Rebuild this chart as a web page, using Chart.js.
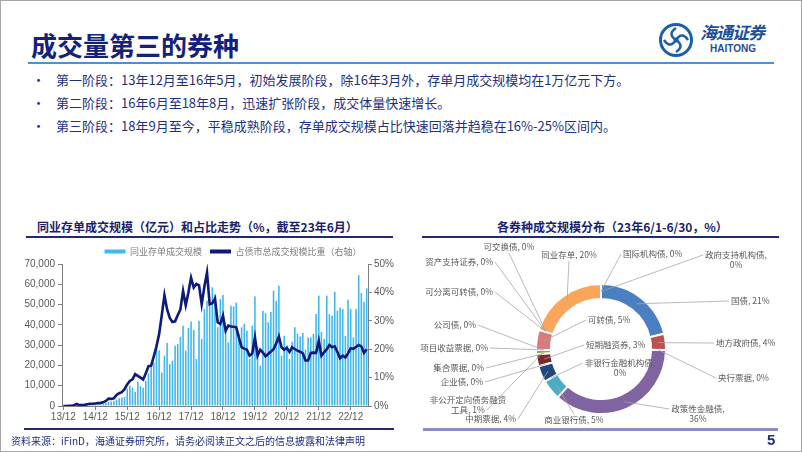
<!DOCTYPE html>
<html>
<head>
<meta charset="utf-8">
<script src="https://cdn.jsdelivr.net/npm/chart.js@4.4.0/dist/chart.umd.min.js"></script>
<style>
body { margin: 0; background: #fff; }
#page { position: relative; width: 802px; height: 452px; box-sizing: border-box; border: 1px solid #a6a6a6; overflow: hidden; font-family: "Noto Sans CJK SC", sans-serif; }
.abs { position: absolute; white-space: nowrap; }
.bul { font-size: 13px; line-height: 13px; color: #1c2f86; }
.ctitle { font-size: 12px; line-height: 12px; font-weight: 700; color: #1a1f6e; }
</style>
</head>
<body>
<div id="page">
  <div class="abs" style="left:30px;top:30px;font-size:26px;line-height:28px;font-weight:700;color:#13217a;">成交量第三的券种</div>
  <svg class="abs" style="left:657px;top:21px" width="36" height="36" viewBox="0 0 36 36">
    <circle cx="18" cy="18" r="15.5" fill="none" stroke="#1b5faa" stroke-width="3"/>
    <path d="M18 6 C12 10 12 14 18 18 C24 22 24 26 18 30" fill="none" stroke="#1b5faa" stroke-width="2.6"/>
    <path d="M6 18 C10 24 14 24 18 18 C22 12 26 12 30 18" fill="none" stroke="#1b5faa" stroke-width="2.6"/>
    <circle cx="18" cy="18" r="2.5" fill="#1b5faa"/>
  </svg>
  <div class="abs" style="left:699px;top:22px;font-size:17px;line-height:18px;font-weight:700;font-style:italic;color:#1b4f9a;letter-spacing:-1px;">海通证券</div>
  <div class="abs" style="left:709px;top:43px;font-family:'Liberation Sans',Arial,sans-serif;font-size:10px;line-height:10px;font-weight:700;color:#1b4f9a;">HAITONG</div>
  <div class="abs" style="left:27px;top:61px;width:746px;height:2px;background:#4a90d6;"></div>

  <div class="abs bul" style="left:31px;top:72px;">•</div>
  <div class="abs bul" style="left:55px;top:72px;">第一阶段：13年12月至16年5月，初始发展阶段，除16年3月外，存单月成交规模均在1万亿元下方。</div>
  <div class="abs bul" style="left:31px;top:95px;">•</div>
  <div class="abs bul" style="left:55px;top:95px;">第二阶段：16年6月至18年8月，迅速扩张阶段，成交体量快速增长。</div>
  <div class="abs bul" style="left:31px;top:118px;">•</div>
  <div class="abs bul" style="left:55px;top:118px;">第三阶段：18年9月至今，平稳成熟阶段，存单成交规模占比快速回落并趋稳在16%-25%区间内。</div>

  <div class="abs ctitle" style="left:36px;top:220px;">同业存单成交规模（亿元）和占比走势（%，截至23年6月）</div>
  <div class="abs" style="left:25px;top:235px;width:367px;height:2px;background:#1f2a72;"></div>
  <div class="abs ctitle" style="left:496px;top:220px;">各券种成交规模分布（23年6/1-6/30，%）</div>
  <div class="abs" style="left:421px;top:235px;width:357px;height:2px;background:#1f2a72;"></div>

  <canvas id="c1" class="abs" style="left:0;top:238px;" width="400" height="190"></canvas>
  <canvas id="c2" class="abs" style="left:410px;top:236px;" width="380" height="190"></canvas>

  <div class="abs" style="left:23px;top:427px;width:370px;height:2px;background:#1f2a72;"></div>
  <div class="abs" style="left:422px;top:427px;width:355px;height:3px;background:#8c8cc6;"></div>

  <div class="abs" style="left:10px;top:435px;font-size:10px;line-height:10px;color:#1c2f86;">资料来源：iFinD，海通证券研究所，请务必阅读正文之后的信息披露和法律声明</div>
  <div class="abs" style="left:766px;top:431px;font-family:'Liberation Sans',Arial,sans-serif;font-size:15px;line-height:15px;font-weight:700;color:#1c2f86;">5</div>
</div>

<script>
// 月份 13/12 - 23/06
const months = [];
for (let y = 13, m = 12; months.length < 115;) {
    months.push(y + '/' + String(m).padStart(2, '0'));
    m++;
    if (m > 12) { m = 1; y++; }
}
const yearTicks = ['13/12', '14/12', '15/12', '16/12', '17/12', '18/12', '19/12', '20/12', '21/12', '22/12'];

// 同业存单成交规模（亿元）
const volume = [
    100, 150, 200, 200, 300, 500, 300, 300, 400, 500, 600, 600,
    700, 800, 900, 1000, 1500, 2000, 2200, 2500, 3200, 3800, 4200, 4500,
    8500, 10000, 9000, 7000, 12000, 9800, 9000, 12500, 16000, 19500, 21500, 30500,
    27500, 16500, 24800, 31000, 20700, 22300, 29700, 30500, 34000, 39600, 27300, 38500,
    41700, 37500, 23200, 42000, 33000, 47800, 51900, 49400, 58500, 55200, 38800, 52700,
    54700, 37900, 31400, 49400, 49100, 51000, 35500, 38800, 40400, 37100, 23200, 39600,
    54000, 29400, 19900, 47000, 45800, 41200, 46300, 56800, 51900, 59300, 24800, 34600,
    30000, 23200, 31700, 38800, 35500, 34300, 36000, 27800, 33800, 33800, 35500, 45300,
    54400, 36600, 33000, 54400, 45300, 44500, 56300, 47000, 48600, 47800, 34600, 52400,
    47800, 33800, 47800, 64500, 55700, 51400, 58000
];
// 占债市总成交规模比重（%）
const ratio = [
    0.0, 0.0, 0.1, 0.1, 0.3, 0.7, 0.3, 0.3, 0.4, 0.6, 0.8, 0.8,
    0.9, 1.0, 1.1, 1.3, 1.8, 2.6, 2.5, 2.7, 3.9, 4.5, 4.9, 5.9,
    7.6, 8.8, 9.4, 11.2, 10.6, 10.0, 9.3, 11.5, 14.0, 14.2, 17.5, 21.0,
    25.3, 32.0, 39.0, 34.0, 31.0, 29.6, 29.8, 32.0, 34.0, 40.5, 35.5, 40.0,
    45.2, 41.7, 43.0, 42.5, 35.8, 42.0, 47.0, 35.8, 36.2, 37.8, 29.5, 28.9,
    31.8, 26.5, 28.3, 28.0, 27.9, 27.7, 24.0, 20.7, 20.2, 19.8, 17.7, 18.5,
    24.2, 17.7, 19.8, 18.8, 17.5, 18.3, 19.2, 20.0, 22.0, 24.5, 20.7, 19.8,
    20.5, 19.0, 20.7, 20.0, 19.5, 19.1, 18.5, 16.0, 16.0, 18.7, 18.8, 18.7,
    23.0, 17.7, 18.9, 20.0, 21.5, 20.7, 21.0, 19.0, 16.8, 17.7, 17.1, 18.5,
    20.3, 20.1, 20.8, 21.5, 21.0, 18.7, 20.0
];

// 各券种成交规模分布（%），顺时针自顶部起
const bondNames = ['国债', '地方政府债', '央行票据', '政策性金融债', '商业银行债', '非银行金融机构债',
    '中期票据', '企业债', '短期融资券', '集合票据', '非公开定向债务融资工具', '项目收益票据', '公司债',
    '可转债', '可分离可转债', '资产支持证券', '可交换债', '同业存单', '国际机构债', '政府支持机构债'];
const bondShares = [21, 4, 0, 36, 5, 0, 4, 0, 3, 0, 1, 0, 0, 5, 0, 0, 0, 20, 0, 0];
const bondColors = ['#4a7fc1', '#c0504d', '#999999', '#8064a2', '#4bacc6', '#999999',
    '#1f497d', '#999999', '#7a2a2a', '#999999', '#8db04a', '#999999', '#999999',
    '#d97b7e', '#999999', '#999999', '#999999', '#f9a65a', '#999999', '#999999'];

// 标签位置（画布坐标）：x, y, 对齐, 引线起点, 换行位置
const pieLabelLayout = [
    [320, 64, 'left', 'l', 0],
    [305, 106, 'left', 'l', 0],
    [307, 141, 'left', 'l', 0],
    [287, 172, 'center', 'l', 7],
    [163, 183, 'center', 't', 0],
    [209, 126, 'center', 'l', 9],
    [105, 182, 'right', 'r', 0],
    [72, 145, 'right', 'r', 0],
    [175, 108, 'left', 'l', 0],
    [73, 131, 'right', 'r', 0],
    [57, 163, 'center', 'r', 9],
    [77, 111, 'right', 'r', 0],
    [65, 88, 'right', 'r', 0],
    [177, 83, 'left', 'l', 0],
    [82, 55, 'right', 'r', 0],
    [82, 25, 'right', 'r', 0],
    [98, 10, 'center', 'b', 0],
    [158, 18, 'center', 'b', 0],
    [212, 17, 'left', 'l', 0],
    [325, 18, 'center', 'l', 8]
];

Chart.defaults.font.family = "'Liberation Sans', 'Noto Sans CJK SC', sans-serif";
Chart.defaults.color = '#595959';

const legendShift = {
    id: 'legendShift',
    afterLayout: chart => {
        chart.legend.left += 32;
        chart.legend.right += 32;
    }
};

const fixLegendHeight = {
    id: 'fixLegendHeight',
    beforeInit: chart => {
        const fit = chart.legend.fit;
        chart.legend.fit = function () {
            fit.bind(chart.legend)();
            this.height = 25;
        };
    }
};

const axisGrid = {display: true, drawOnChartArea: false, tickLength: 4, color: '#7f7f7f'};

new Chart(document.getElementById('c1'), {
    data: {
        labels: months,
        datasets: [{
            type: 'bar',
            label: '同业存单成交规模',
            data: volume,
            yAxisID: 'y',
            backgroundColor: '#40b8ea',
            barPercentage: 0.6,
            categoryPercentage: 1,
            order: 1
        }, {
            type: 'line',
            label: '占债市总成交规模比重（右轴）',
            data: ratio,
            yAxisID: 'y1',
            borderColor: '#0d1a7a',
            backgroundColor: '#0d1a7a',
            borderWidth: 2.6,
            pointRadius: 0,
            tension: 0,
            order: 0
        }]
    },
    options: {
        responsive: false,
        animation: false,
        layout: {padding: 0},
        scales: {
            x: {
                grid: {...axisGrid, offset: false},
                border: {color: '#7f7f7f'},
                ticks: {
                    autoSkip: false,
                    maxRotation: 0,
                    padding: 1,
                    font: {size: 10},
                    callback: function (value) {
                        const label = this.getLabelForValue(value);
                        return yearTicks.includes(label) ? label : null;
                    }
                },
                afterFit: s => { s.height = 23; }
            },
            y: {
                position: 'left',
                min: 0,
                max: 70000,
                grid: axisGrid,
                border: {color: '#7f7f7f'},
                ticks: {
                    stepSize: 10000,
                    font: {size: 10},
                    padding: 3,
                    callback: v => v.toLocaleString('en-US')
                },
                afterFit: s => { s.width = 61; }
            },
            y1: {
                position: 'right',
                min: 0,
                max: 50,
                grid: axisGrid,
                border: {color: '#7f7f7f'},
                ticks: {
                    stepSize: 5,
                    font: {size: 10},
                    padding: 2,
                    callback: v => v + '%'
                },
                afterFit: s => { s.width = 33; }
            }
        },
        plugins: {
            legend: {
                position: 'top',
                labels: {
                    boxWidth: 21,
                    boxHeight: 4,
                    padding: 8,
                    font: {size: 9, family: "'Noto Sans CJK SC', sans-serif"},
                    color: '#7f7f7f',
                    sort: (a, b) => a.datasetIndex - b.datasetIndex,
                    generateLabels: chart => Chart.defaults.plugins.legend.labels.generateLabels(chart)
                        .map(item => ({...item, lineWidth: 0}))
                }
            },
            tooltip: {enabled: false}
        }
    },
    plugins: [fixLegendHeight, legendShift]
});

const pieLabelPlugin = {
    id: 'pieLabels',
    afterDraw: chart => {
        const {ctx} = chart;
        const arcs = chart.getDatasetMeta(0).data;
        ctx.save();
        ctx.font = "8.5px 'Noto Sans CJK SC'";
        ctx.textBaseline = 'middle';
        pieLabelLayout.forEach((p, i) => {
            const [x, y, align, from, split] = p;
            const arc = arcs[i];
            const mid = (arc.startAngle + arc.endAngle) / 2;
            const r = (arc.innerRadius + arc.outerRadius) / 2;
            const ex = arc.x + Math.cos(mid) * r;
            const ey = arc.y + Math.sin(mid) * r;

            const full = bondNames[i] + ', ' + bondShares[i] + '%';
            const lines = split ? [full.slice(0, split).trim(), full.slice(split).trim()] : [full];
            const lh = 10;
            const widths = lines.map(t => ctx.measureText(t).width);

            const boxOf = k => {
                const w = widths[k];
                const left = align === 'left' ? x : align === 'right' ? x - w : x - w / 2;
                return {left, right: left + w, y: y + k * lh};
            };

            let sx, sy;
            if (from === 'l') { const b = boxOf(0); sx = b.left - 2; sy = b.y; }
            else if (from === 'r') { const b = boxOf(lines.length - 1); sx = b.right + 2; sy = b.y; }
            else if (from === 'b') { sx = x; sy = y + (lines.length - 1) * lh + 6; }
            else { sx = x; sy = y - 6; }

            ctx.strokeStyle = '#a6a6a6';
            ctx.lineWidth = 0.8;
            ctx.beginPath();
            ctx.moveTo(sx, sy);
            ctx.lineTo(ex, ey);
            ctx.stroke();

            ctx.fillStyle = '#595959';
            ctx.textAlign = align;
            lines.forEach((t, k) => ctx.fillText(t, x, y + k * lh));
        });
        ctx.restore();
    }
};

new Chart(document.getElementById('c2'), {
    type: 'doughnut',
    data: {
        labels: bondNames,
        datasets: [{
            data: bondShares,
            backgroundColor: bondColors,
            borderColor: '#ffffff',
            borderWidth: 2
        }]
    },
    options: {
        responsive: false,
        animation: false,
        cutout: '77%',
        layout: {padding: {left: 124, right: 124, top: 46, bottom: 12}},
        plugins: {
            legend: {display: false},
            tooltip: {enabled: false}
        }
    },
    plugins: [pieLabelPlugin]
});
</script>
</body>
</html>
